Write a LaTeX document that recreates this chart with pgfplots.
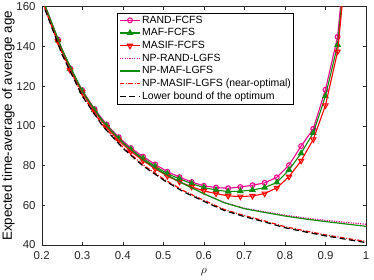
\documentclass[border=0pt]{standalone}
\usepackage{pgfplots}
\pgfplotsset{compat=1.18}
\usepackage{fontspec}
\setmainfont{Liberation Sans}
\definecolor{mgreen}{rgb}{0.05,0.55,0.05}
\definecolor{axgray}{rgb}{0.15,0.15,0.15}
\begin{document}
\begin{tikzpicture}
\begin{axis}[
  scale only axis,
  width=324.3bp, height=238.3bp,
  xmin=0.2, xmax=1, ymin=40, ymax=160,
  xtick={0.2,0.3,...,1.0},
  xticklabels={0.2,0.3,0.4,0.5,0.6,0.7,0.8,0.9,1},
  ytick={40,60,...,160},
  tick align=inside,
  major tick length=3.3bp,
  axis line style={axgray},
  every tick/.style={axgray},
  tick label style={font=\fontsize{11.5}{13}\selectfont, text=axgray},
  xticklabel style={yshift=-3.2bp},
  yticklabel style={xshift=-2.6bp},
  /pgf/number format/assume math mode=true,
  xlabel={$\rho$},
  ylabel={Expected time-average of average age},
  xlabel style={at={(axis description cs:0.5,-0.113)}, anchor=center, font=\fontsize{12}{14}\selectfont},
  ylabel style={at={(axis description cs:-0.103,0.5)}, anchor=center, font=\fontsize{13.4}{15}\selectfont},
  clip marker paths=true,
  legend cell align=left,
  legend style={at={(0.7775,0.9755)}, anchor=north east,
    font=\fontsize{10.5}{12}\selectfont,
    inner xsep=1.5bp, inner ysep=1.5bp,
    nodes={inner sep=1.2bp, text height=7.6bp, text depth=2.1bp},
    row sep=0.6bp},
  legend image code/.code={
    \draw[mark repeat=2,mark phase=2] plot coordinates {(0bp,0bp) (10.3bp,0bp) (20.6bp,0bp)};
  },
]
% RAND-FCFS
\addplot[magenta, line width=1.1bp, mark=o, mark size=2.4bp, mark options={solid, fill=white}] coordinates {
(0.20,165) (0.24,143.5) (0.27,129) (0.30,118) (0.33,108.5) (0.36,100.7) (0.39,94.3)
(0.42,88.8) (0.45,84.5) (0.48,80.6) (0.51,76.9) (0.54,74.2) (0.57,71.7) (0.60,69.8)
(0.63,68.9) (0.66,68.6) (0.69,69.2) (0.72,70.1) (0.75,71.3) (0.78,74.1) (0.81,80.2)
(0.84,89.8) (0.87,98.5) (0.90,118.2) (0.93,144.8) (0.96,210)};
\addlegendentry{RAND-FCFS}
% MAF-FCFS
\addplot[mgreen, line width=1.1bp, mark=triangle*, mark size=2.9bp, mark options={solid, fill=mgreen}] coordinates {
(0.20,164.5) (0.24,143.1) (0.27,128.6) (0.30,117.5) (0.33,108) (0.36,100.1) (0.39,93.6)
(0.42,88.1) (0.45,83.6) (0.48,79.6) (0.51,75.9) (0.54,73.3) (0.57,70.9) (0.60,68.9)
(0.63,67.7) (0.66,66.9) (0.69,67.1) (0.72,67.7) (0.75,68.9) (0.78,71.5) (0.81,77.8)
(0.84,86.2) (0.87,96.5) (0.90,115) (0.93,140.8) (0.96,205)};
\addlegendentry{MAF-FCFS}
% MASIF-FCFS
\addplot[red, line width=1.1bp, mark=triangle, mark size=2.9bp, mark options={solid, rotate=180, fill=white}] coordinates {
(0.20,164) (0.24,142.5) (0.27,128) (0.30,116.8) (0.33,107.2) (0.36,99.3) (0.39,92.7)
(0.42,87.1) (0.45,82.5) (0.48,78.4) (0.51,74.7) (0.54,71.8) (0.57,69.3) (0.60,67.2)
(0.63,65.9) (0.66,64.7) (0.69,64.4) (0.72,64.7) (0.75,65.9) (0.78,68.8) (0.81,74.4)
(0.84,82.4) (0.87,93.2) (0.90,110.3) (0.93,137.4) (0.96,200)};
\addlegendentry{MASIF-FCFS}
% NP-RAND-LGFS
\addplot[magenta, line width=1.2bp, dash pattern=on 1.2bp off 1.2bp] coordinates {
(0.20,165) (0.25,138.5) (0.30,117.4) (0.35,102.4) (0.40,91.5) (0.45,83.0) (0.50,76.3)
(0.55,70.8) (0.60,65.8) (0.65,61.4) (0.70,58.5) (0.75,56.7) (0.80,55.0) (0.85,53.6)
(0.90,52.4) (0.95,51.4) (1.00,50.4)};
\addlegendentry{NP-RAND-LGFS}
% NP-MAF-LGFS
\addplot[mgreen, line width=1.2bp] coordinates {
(0.20,165) (0.25,138.5) (0.30,117.4) (0.35,102.4) (0.40,91.5) (0.45,83.0) (0.50,76.3)
(0.55,70.8) (0.60,65.8) (0.65,61.3) (0.70,58.3) (0.75,56.4) (0.80,54.6) (0.85,53.1)
(0.90,51.8) (0.95,50.6) (1.00,49.4)};
\addlegendentry{NP-MAF-LGFS}
% NP-MASIF-LGFS
\addplot[red, line width=1.2bp, dash pattern=on 4.5bp off 1.6bp on 1bp off 1.6bp] coordinates {
(0.20,163.5) (0.25,136.5) (0.30,115.5) (0.35,100.5) (0.40,89.3) (0.45,80.3) (0.50,73.3)
(0.55,67.3) (0.60,62.5) (0.65,57.9) (0.70,54.8) (0.75,52.1) (0.80,49.2) (0.85,47.1)
(0.90,45.1) (0.95,43.4) (1.00,41.8)};
\addlegendentry{NP-MASIF-LGFS (near-optimal)}
% Lower bound
\addplot[black, line width=1.2bp, dash pattern=on 6bp off 3.5bp] coordinates {
(0.20,163) (0.25,136) (0.30,115) (0.35,100) (0.40,88.8) (0.45,79.8) (0.50,72.8)
(0.55,66.8) (0.60,62.0) (0.65,57.4) (0.70,54.3) (0.75,51.6) (0.80,48.7) (0.85,46.6)
(0.90,44.6) (0.95,42.9) (1.00,41.2)};
\addlegendentry{Lower bound of the optimum}
\end{axis}
\pgfresetboundingbox
\path[use as bounding box] ([shift={(-41.7bp,-35bp)}]current axis.south west) rectangle ([shift={(8bp,6.7bp)}]current axis.north east);
\end{tikzpicture}
\end{document}
